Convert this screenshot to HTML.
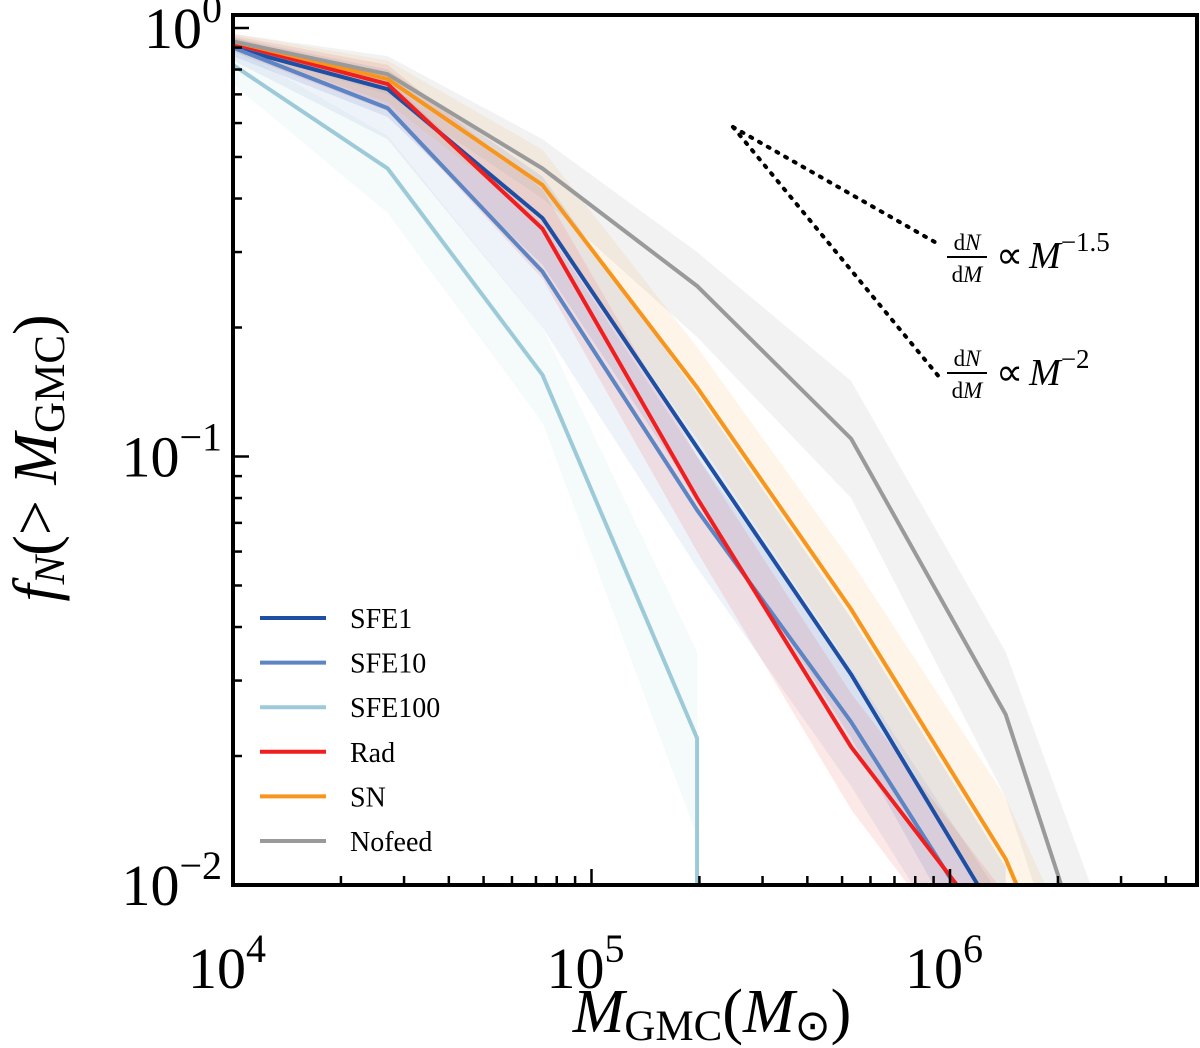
<!DOCTYPE html>
<html><head><meta charset="utf-8"><style>
html,body{margin:0;padding:0;background:#fff;overflow:hidden;}
svg{display:block;font-family:"Liberation Serif",serif;}
</style></head><body>
<svg id="chart" width="1200" height="1048" viewBox="0 0 1200 1048">
<g id="bands"></g>
<g id="lines"></g>
<g id="ticks"></g>
<rect x="233" y="15" width="964" height="870" fill="none" stroke="#000" stroke-width="4"/>
<g>
<line x1="733" y1="127" x2="940" y2="245" stroke="#000" stroke-width="4" stroke-dasharray="2,8" stroke-linecap="round"/>
<line x1="733" y1="127" x2="940" y2="378" stroke="#000" stroke-width="4" stroke-dasharray="2,8" stroke-linecap="round"/>
<g>
<text x="967" y="250" font-size="23" text-anchor="middle">d<tspan font-style="italic">N</tspan></text>
<line x1="947" y1="257" x2="987" y2="257" stroke="#000" stroke-width="2"/>
<text x="967" y="282" font-size="23" text-anchor="middle">d<tspan font-style="italic">M</tspan></text>
<text x="996" y="268" font-size="38">∝<tspan font-style="italic" dx="6">M</tspan><tspan font-size="27" dy="-17">−1.5</tspan></text>
</g>
<g>
<text x="967" y="366" font-size="23" text-anchor="middle">d<tspan font-style="italic">N</tspan></text>
<line x1="947" y1="373" x2="987" y2="373" stroke="#000" stroke-width="2"/>
<text x="967" y="398" font-size="23" text-anchor="middle">d<tspan font-style="italic">M</tspan></text>
<text x="996" y="385" font-size="38">∝<tspan font-style="italic" dx="6">M</tspan><tspan font-size="27" dy="-17">−2</tspan></text>
</g>
</g>
<g id="legend"></g>
<text x="712" y="1032" font-size="62" text-anchor="middle"><tspan font-style="italic">M</tspan><tspan font-size="43" dy="8">GMC</tspan><tspan dy="-8">(</tspan><tspan font-style="italic">M</tspan><tspan font-size="43" dy="8">⊙</tspan><tspan dy="-8">)</tspan></text>
<text transform="translate(56,458) rotate(-90)" font-size="62" text-anchor="middle"><tspan font-style="italic">f</tspan><tspan font-size="43" font-style="italic" dy="8">N</tspan><tspan dy="-8">(&gt; </tspan><tspan font-style="italic">M</tspan><tspan font-size="43" dy="8">GMC</tspan><tspan dy="-8">)</tspan></text>
</svg>
<script>
const masses=[1e4,2.7e4,7.3e4,1.97e5,5.3e5,1.43e6,3.9e6];
const seriesNames=["SFE1","SFE10","SFE100","Rad","SN","Nofeed"];
const seriesColors=["#1f4fa3","#5d84c3","#9dcad8","#f01e1e","#f7951c","#9a9a9a"];
const sfe1=[0.9,0.72,0.36,0.105,0.031,0.0078];
const sfe10=[0.9,0.65,0.27,0.075,0.024,0.0065];
const sfe100=[0.82,0.47,0.155,0.022,0];
const rad=[0.92,0.74,0.34,0.08,0.021,0.0071];
const sn=[0.93,0.76,0.43,0.145,0.044,0.0115,0.0016];
const nofeed=[0.93,0.78,0.47,0.25,0.11,0.025,0.0019];
const sfe1Lo=[0.86,0.62,0.28,0.08,0.022,0.005];
const sfe1Hi=[0.95,0.8,0.45,0.14,0.042,0.011];
const sfe10Lo=[0.84,0.55,0.2,0.055,0.017,0.0045];
const sfe10Hi=[0.95,0.76,0.35,0.1,0.032,0.009];
const sfe100Lo=[0.74,0.37,0.12,0.013,0.004];
const sfe100Hi=[0.9,0.56,0.2,0.035,0.004];
const radLo=[0.88,0.64,0.26,0.06,0.015,0.005];
const radHi=[0.96,0.82,0.42,0.1,0.028,0.0095];
const snLo=[0.9,0.67,0.35,0.11,0.032,0.008,0.001];
const snHi=[0.97,0.84,0.52,0.18,0.057,0.016,0.0025];
const nofeedLo=[0.9,0.7,0.4,0.19,0.08,0.016,0.0012];
const nofeedHi=[0.97,0.86,0.55,0.3,0.15,0.035,0.0035];
const xTickLabels=["4","5","6"];
const yTickLabels=["0","−1","−2"];
const allVals=[sfe1,sfe10,sfe100,rad,sn,nofeed];
const allLo=[sfe1Lo,sfe10Lo,sfe100Lo,radLo,snLo,nofeedLo];
const allHi=[sfe1Hi,sfe10Hi,sfe100Hi,radHi,snHi,nofeedHi];

const L=233,R=1197,T=15,B=885;
const xs=v=>L+(Math.log10(v)-4)*358.5;
const ys=v=>28+(-Math.log10(v))*428.5;
const NS="http://www.w3.org/2000/svg";
const mk=(t,a,p)=>{const e=document.createElementNS(NS,t);for(const k in a)e.setAttribute(k,a[k]);p.appendChild(e);return e;};
const svg=document.getElementById('chart');
const defs=mk('defs',{},svg);
const cp=mk('clipPath',{id:'clip'},defs);
mk('rect',{x:L,y:T,width:R-L,height:B-T},cp);
const bands=document.getElementById('bands'),lines=document.getElementById('lines');
bands.setAttribute('clip-path','url(#clip)');lines.setAttribute('clip-path','url(#clip)');
function pt(i,v){
  if(v<=0) return [xs(masses[i-1]),B+50];
  return [xs(masses[i]),ys(v)];
}
allVals.forEach((vals,s)=>{
  const lo=allLo[s],hi=allHi[s];
  const up=[],dn=[];
  for(let i=0;i<vals.length;i++){
    if(vals[i]<=0){up.push([xs(masses[i-1]),B+50]);dn.push([xs(masses[i-1]),B+50]);break;}
    up.push([xs(masses[i]),ys(hi[i])]);dn.push([xs(masses[i]),ys(lo[i])]);
  }
  const poly=up.concat(dn.reverse()).map(p=>p.join(',')).join(' ');
  const b=mk('polygon',{points:poly,fill:seriesColors[s],'fill-opacity':s===5?0.13:0.1},bands);
  
  
  const pts=vals.map((v,i)=>pt(i,v).join(',')).join(' ');
  const l=mk('polyline',{points:pts,fill:'none',stroke:seriesColors[s],'stroke-width':4,'stroke-linejoin':'round'},lines);
  
  
});
const tk=document.getElementById('ticks');
for(let d=4;d<=6;d++){
  for(let m=1;m<10;m++){
    const v=m*Math.pow(10,d);const x=xs(v);if(x>R)break;
    const t=mk('line',{x1:x,x2:x,y1:B,y2:B-(m===1?16:9),stroke:'#000','stroke-width':2.5},tk);
    
    
  }
}
xTickLabels.forEach((lab)=>{
  const x=xs(Math.pow(10,+lab));
  const t=mk('text',{x:x-6,y:988,'font-size':58,'text-anchor':'middle'},tk);
  t.innerHTML='10<tspan font-size="40" dy="-26">'+lab+'</tspan>';
  
  
});
for(let d=-2;d<=0;d++){
  for(let m=1;m<10;m++){
    const v=m*Math.pow(10,d);const y=ys(v);if(y<T+2)break;
    const t=mk('line',{x1:L,x2:L+(m===1?16:9),y1:y,y2:y,stroke:'#000','stroke-width':2.5},tk);
    
    
  }
}
yTickLabels.forEach((lab,i)=>{
  const y=ys(Math.pow(10,-i));
  const t=mk('text',{x:222,y:y+20,'font-size':58,'text-anchor':'end'},tk);
  t.innerHTML='10<tspan font-size="40" dy="-26">'+lab+'</tspan>';
  
  
});
const lg=document.getElementById('legend');
seriesNames.forEach((n,s)=>{
  const y=618+s*44.6;
  const g=mk('g',{},lg);
  
  
  mk('line',{x1:260,x2:326,y1:y,y2:y,stroke:seriesColors[s],'stroke-width':4},g);
  const t=mk('text',{x:350,y:y+10,'font-size':28},g);
  t.textContent=n;
});
</script>
</body></html>
